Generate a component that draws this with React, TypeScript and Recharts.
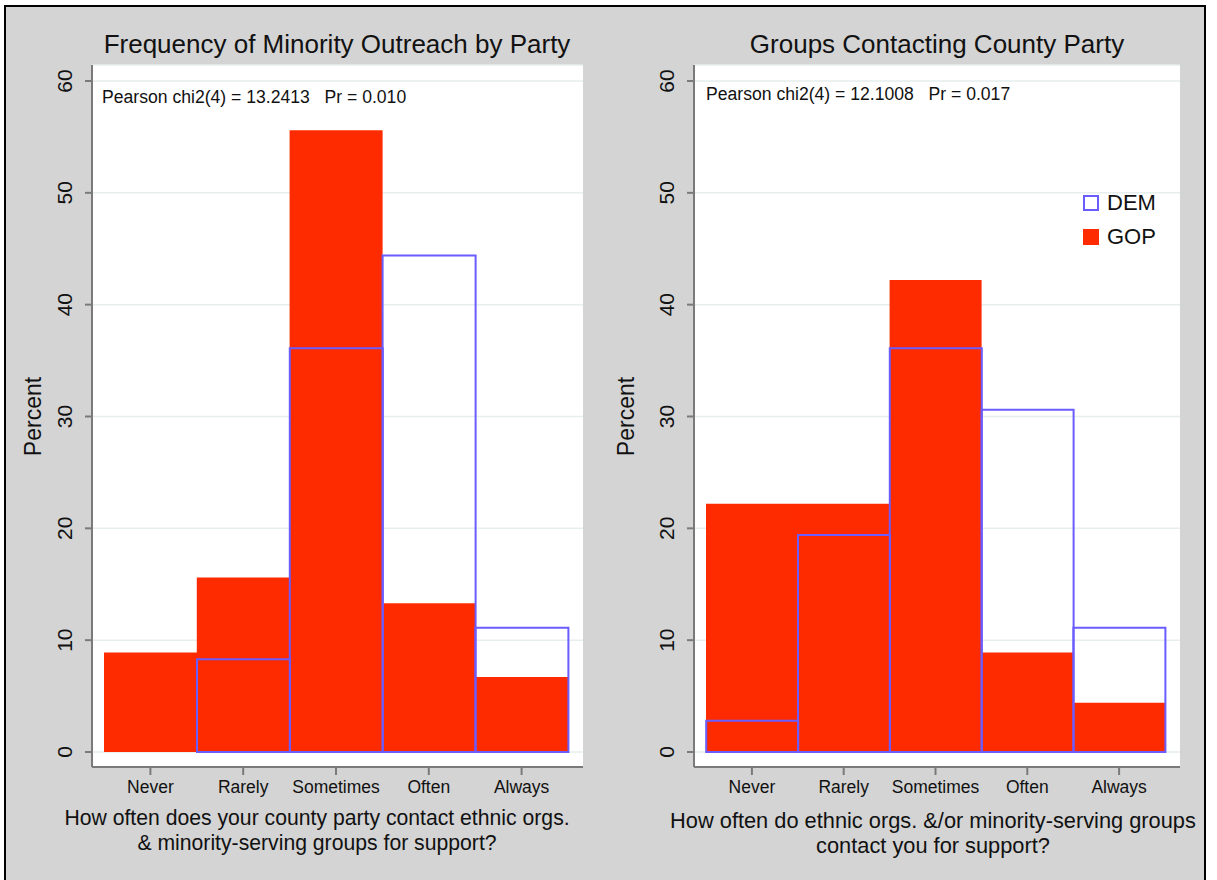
import React from "react";
import { BarChart, Bar, XAxis, YAxis, CartesianGrid, Legend } from "recharts";

const categories = ["Never", "Rarely", "Sometimes", "Often", "Always"];
const outreachDem = [0, 8.3, 36.1, 44.4, 11.1];
const outreachGop = [8.9, 15.6, 55.6, 13.3, 6.7];
const contactDem = [2.8, 19.4, 36.1, 30.6, 11.1];
const contactGop = [22.2, 22.2, 42.2, 8.9, 4.4];
const yTicks = [0, 10, 20, 30, 40, 50, 60];

const RED = "#ff2b00";
const BLUE = "#6a5cff";
const AXIS = "#7a7a7a";
const FONT = "'Liberation Sans', Arial, Helvetica, sans-serif";

const toRows = (dem: number[], gop: number[]) =>
    categories.map((name, i) => ({ name, DEM: dem[i], GOP: gop[i] }));

function YTick({ x, y, payload }: any) {
    const bx = x - 11;
    return (
        <text
            x={bx}
            y={y}
            transform={`rotate(-90 ${bx} ${y})`}
            textAnchor="middle"
            fontSize={21}
            fill="#111"
            fontFamily={FONT}
        >
            {payload.value}
        </text>
    );
}

function LegendBox() {
    const item = (label: string, box: React.CSSProperties) => (
        <div style={{ display: "flex", alignItems: "center", height: 34 }}>
            <div style={{ width: 16, height: 16, boxSizing: "border-box", marginRight: 8, ...box }} />
            <span style={{ fontSize: 22, color: "#111", fontFamily: FONT }}>{label}</span>
        </div>
    );
    return (
        <div>
            {item("DEM", { border: `2px solid ${BLUE}`, background: "#fff" })}
            {item("GOP", { background: RED })}
        </div>
    );
}

interface PanelProps {
    left: number;
    width: number;
    marginLeft: number;
    marginRight: number;
    data: { name: string; DEM: number; GOP: number }[];
    showLegend?: boolean;
}

function Panel({ left, width, marginLeft, marginRight, data, showLegend }: PanelProps) {
    return (
        <div style={{ position: "absolute", left, top: 0 }}>
            <BarChart
                width={width}
                height={880}
                data={data}
                margin={{ top: 65, right: marginRight, left: marginLeft, bottom: 73 }}
                barCategoryGap={0}
                barGap="-100%"
            >
                <CartesianGrid vertical={false} fill="#fff" stroke="#e6eeee" strokeWidth={1.5} />
                <XAxis
                    dataKey="name"
                    height={40}
                    padding={{ left: 12, right: 15 }}
                    tickSize={8}
                    tickMargin={6}
                    tick={{ fill: "#111", fontSize: 17.5, fontFamily: FONT }}
                    axisLine={{ stroke: AXIS, strokeWidth: 2 }}
                    tickLine={{ stroke: AXIS, strokeWidth: 2 }}
                />
                <YAxis
                    width={60}
                    domain={[0, 60]}
                    ticks={yTicks}
                    padding={{ top: 16, bottom: 15 }}
                    tickSize={7}
                    tickMargin={2}
                    tick={<YTick />}
                    axisLine={{ stroke: AXIS, strokeWidth: 2 }}
                    tickLine={{ stroke: AXIS, strokeWidth: 2 }}
                />
                <Bar dataKey="GOP" fill={RED} isAnimationActive={false} />
                <Bar dataKey="DEM" fill="none" stroke={BLUE} strokeWidth={2} isAnimationActive={false} />
                {showLegend && (
                    <Legend
                        layout="horizontal"
                        verticalAlign="middle"
                        align="center"
                        content={<LegendBox />}
                        wrapperStyle={{ left: 483, top: 186, width: 100 }}
                    />
                )}
            </BarChart>
        </div>
    );
}

const abs = (s: React.CSSProperties): React.CSSProperties => ({ position: "absolute", ...s });

export default function App() {
    return (
        <div style={abs({ left: 0, top: 0, width: 1217, height: 880, background: "#fff", overflow: "hidden", fontFamily: FONT })}>
            <div
                style={abs({
                    left: 4,
                    top: 5,
                    width: 1202,
                    height: 900,
                    boxSizing: "border-box",
                    border: "2px solid #000",
                    background: "#d4d4d4",
                    overflow: "hidden",
                })}
            >
                <div style={abs({ left: -6, top: -7, width: 1217, height: 880 })}>
                    <Panel left={0} width={600} marginLeft={32} marginRight={17} data={toRows(outreachDem, outreachGop)} />
                    <Panel left={600} width={617} marginLeft={34} marginRight={37} data={toRows(contactDem, contactGop)} showLegend />

                    {/* titles */}
                    <div style={abs({ left: 37, width: 600, top: 29, textAlign: "center", fontSize: 26, color: "#111" })}>
                        Frequency of Minority Outreach by Party
                    </div>
                    <div style={abs({ left: 637, width: 600, top: 29, textAlign: "center", fontSize: 26, color: "#111" })}>
                        Groups Contacting County Party
                    </div>

                    {/* test statistics */}
                    <div style={abs({ left: 102, top: 87, fontSize: 17.6, color: "#111", whiteSpace: "pre" })}>
                        {"Pearson chi2(4) = 13.2413   Pr = 0.010"}
                    </div>
                    <div style={abs({ left: 706, top: 84, fontSize: 17.6, color: "#111", whiteSpace: "pre" })}>
                        {"Pearson chi2(4) = 12.1008   Pr = 0.017"}
                    </div>

                    {/* y axis titles */}
                    <div style={abs({ left: 33 - 60, top: 403, width: 120, textAlign: "center", fontSize: 23, color: "#111", transform: "rotate(-90deg)" })}>
                        Percent
                    </div>
                    <div style={abs({ left: 626 - 60, top: 403, width: 120, textAlign: "center", fontSize: 23, color: "#111", transform: "rotate(-90deg)" })}>
                        Percent
                    </div>

                    {/* x axis titles */}
                    <div style={abs({ left: 317 - 350, width: 700, top: 805, textAlign: "center", fontSize: 21.2, lineHeight: "25px", color: "#111" })}>
                        How often does your county party contact ethnic orgs.
                        <br />& minority-serving groups for support?
                    </div>
                    <div style={abs({ left: 933 - 350, width: 700, top: 808, textAlign: "center", fontSize: 21.8, lineHeight: "25px", color: "#111" })}>
                        How often do ethnic orgs. &amp;/or minority-serving groups
                        <br />
                        contact you for support?
                    </div>
                </div>
            </div>
        </div>
    );
}
